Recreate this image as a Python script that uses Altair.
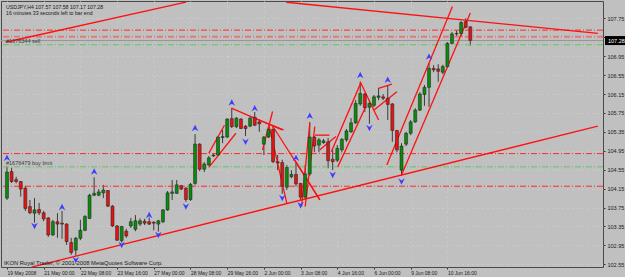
import json
import numpy as np
import pandas as pd
import altair as alt

# ---------------- data (USDJPY, H4) ----------------
opens = [103.95,104.51,104.34,104.30,104.16,103.77,103.63,103.71,103.64,103.53,
         103.17,103.45,103.42,103.40,103.01,102.85,103.10,103.27,103.52,104.01,
         104.01,104.06,104.11,103.78,103.36,103.05,103.25,103.36,103.29,103.40,
         103.46,103.45,103.44,103.40,103.45,103.70,104.05,104.05,104.21,104.16,
         103.92,104.26,105.09,104.56,104.65,104.84,104.86,105.23,105.24,105.63,
         105.46,105.62,105.47,105.47,105.66,105.56,105.09,105.24,105.40,104.72,
         104.70,104.18,104.40,104.45,104.26,103.97,104.46,105.24,105.07,105.12,
         105.14,104.77,104.75,104.97,105.18,105.35,105.54,105.94,106.15,105.87,
         105.91,106.08,106.09,106.06,105.94,105.38,104.54,105.09,105.32,105.56,
         105.81,106.14,106.29,106.69,106.68,106.61,106.73,107.22,107.42,107.43,
         107.68,107.57]
highs = [104.62,104.59,104.40,104.31,104.21,103.91,103.95,103.85,103.68,103.55,
         103.49,103.63,103.68,103.42,103.11,103.13,103.49,103.59,104.04,104.39,
         104.14,104.23,104.12,103.80,103.38,103.36,103.30,103.53,103.59,103.52,
         103.51,103.54,103.46,103.49,103.72,104.10,104.33,104.33,104.23,104.18,
         104.27,105.30,105.11,104.71,104.84,104.90,105.26,105.39,105.64,105.85,
         105.66,105.64,105.49,105.68,105.77,105.62,105.26,105.43,105.47,104.86,
         104.76,104.65,104.54,104.71,104.27,104.65,105.56,105.26,105.22,105.20,
         105.22,104.97,105.07,105.22,105.41,105.64,106.02,106.41,106.17,106.02,
         106.13,106.28,106.15,106.32,105.96,105.39,105.11,105.35,105.60,105.85,
         106.19,106.34,106.80,106.76,106.78,106.77,107.25,107.46,107.49,107.69,
         107.75,107.58]
lows = [103.91,104.27,104.26,103.98,103.68,103.61,103.43,103.59,103.46,103.13,
        103.15,103.11,103.09,102.96,102.75,102.73,103.06,103.25,103.51,103.99,
        103.99,103.95,103.76,103.34,103.04,103.01,103.11,103.32,103.25,103.36,
        103.38,103.38,103.27,103.24,103.42,103.68,103.91,104.04,104.12,103.87,
        103.89,104.23,104.52,104.50,104.63,104.82,104.84,105.11,105.22,105.43,
        105.43,105.41,105.26,105.45,105.47,105.35,104.86,105.22,104.69,104.54,
        104.04,104.12,104.37,104.20,103.91,103.93,104.42,104.92,104.92,105.10,
        104.58,104.54,104.71,104.92,105.14,105.33,105.52,105.90,105.77,105.52,
        105.87,106.02,106.02,105.60,105.14,104.92,104.42,105.05,105.28,105.54,
        105.79,105.90,105.88,106.61,106.41,106.57,106.70,107.20,107.36,107.36,
        107.54,107.17]
closes = [104.50,104.30,104.30,104.14,103.73,103.64,103.70,103.64,103.51,103.17,
          103.45,103.40,103.40,103.03,102.80,103.10,103.27,103.56,104.01,104.05,
          104.08,104.12,103.78,103.36,103.06,103.35,103.15,103.45,103.47,103.47,
          103.42,103.40,103.42,103.47,103.70,104.06,104.08,104.23,104.14,103.92,
          104.24,105.09,104.56,104.67,104.80,104.86,105.24,105.25,105.62,105.46,
          105.64,105.42,105.42,105.64,105.49,105.52,105.24,105.40,104.72,104.69,
          104.20,104.60,104.45,104.25,103.97,104.46,105.24,105.05,105.18,105.16,
          104.74,104.72,105.00,105.19,105.37,105.54,105.95,106.16,105.86,105.95,
          106.09,106.11,106.06,105.93,105.38,104.97,105.05,105.32,105.56,105.81,
          106.15,106.29,106.69,106.66,106.63,106.73,107.22,107.42,107.43,107.66,
          107.56,107.28]

time_labels = ["19 May 2008", "21 May 00:00", "22 May 08:00", "23 May 16:00",
               "27 May 00:00", "28 May 08:00", "29 May 16:00", "2 Jun 00:00",
               "3 Jun 08:00", "4 Jun 16:00", "6 Jun 00:00", "9 Jun 08:00",
               "10 Jun 16:00"]
time_label_bars = [0, 8, 16, 24, 32, 40, 48, 56, 64, 72, 80, 88, 96]
price_ticks = [102.55, 102.95, 103.35, 103.75, 104.15, 104.55, 104.95,
               105.35, 105.75, 106.15, 106.55, 106.95, 107.35, 107.75]

# fractal arrows (bar index, price)
up_bars = [0, 12, 19, 31, 41, 49, 54, 63, 66, 77, 83, 92]
up_prices = [104.80, 103.76, 104.51, 103.59, 105.43, 105.97, 105.85, 104.80,
             105.69, 106.55, 106.45, 106.94]
dn_bars = [6, 15, 25, 33, 39, 52, 60, 64, 71, 79, 86]
dn_prices = [103.36, 102.64, 102.96, 103.17, 103.77, 105.14, 103.95, 103.80,
             104.44, 105.43, 104.30]

# order / level lines
lvl_prices = [107.50, 107.36, 107.28, 107.19, 104.89, 104.61, 104.20]
lvl_kind = ["sl", "pend", "bid", "order", "sl", "order", "sl"]

# trend lines (bar index / price pairs)
tl_i1 = [-0.3, 60.9, 5.36, 44.0, 44.0, 48.9, 53.9, 57.9, 57.1, 57.8, 64.2, 65.0,
         62.8, 67.1, 68.2, 70.7, 72.1, 77.0, 80.0, 81.0, 82.8, 86.0]
tl_p1 = [107.244, 108.09, 102.49, 104.90, 104.60, 105.85, 105.64, 105.78, 105.49,
         105.49, 103.77, 103.77, 104.75, 105.28, 104.97, 104.93, 104.61, 106.41,
         105.81, 106.27, 104.65, 104.44]
tl_i2 = [39.0, 128.8, 128.8, 47.4, 49.9, 60.0, 60.3, 55.7, 61.0, 68.2, 66.0, 67.1,
         68.2, 70.3, 71.7, 77.1, 78.2, 81.0, 85.0, 83.9, 97.1, 101.0]
tl_p2 = [108.09, 107.43, 105.47, 105.49, 105.32, 105.39, 105.39, 104.97, 103.84,
         103.91, 105.53, 105.46, 103.91, 105.28, 105.25, 106.38, 105.88, 105.60,
         106.20, 106.36, 108.00, 107.86]

# ---------------- build ----------------
BG = "#c0c0c0"
FONT = "Liberation Sans"
n = len(opens)
df = pd.DataFrame({"i": np.arange(n), "o": opens, "h": highs, "l": lows, "c": closes})
df["top"] = df[["o", "c"]].max(axis=1)
df["bot"] = df[["o", "c"]].min(axis=1)
df["dir"] = np.where(df["c"] >= df["o"], "up", "down")

xs = alt.Scale(domain=[-0.214, 128.83], nice=False, zero=False)
ys = alt.Scale(domain=[102.493, 108.116], nice=False, zero=False)

label_expr = json.dumps(time_labels) + "[round(datum.value / 8)]"
x_axis = alt.Axis(values=time_label_bars, labelExpr=label_expr, orient="bottom",
                  labelAlign="left", labelBaseline="top", labelFontSize=5,
                  labelFont=FONT, labelColor="#1a1a1a", labelPadding=1,
                  tickSize=2, tickColor="#303030", domain=False, title=None,
                  grid=True, gridColor="#d2d2d2", gridDash=[1, 4],
                  labelOverlap=False, labelFlush=False)
y_axis = alt.Axis(values=price_ticks, format=".2f", orient="right",
                  labelFontSize=5.5, labelFont=FONT, labelColor="#1a1a1a",
                  labelPadding=2, tickSize=2, tickColor="#303030", domain=False,
                  title=None, grid=True, gridColor="#d2d2d2", gridDash=[1, 4],
                  labelOverlap=False, labelFlush=False)


def X(field):
    return alt.X(field, type="quantitative", scale=xs, axis=x_axis, title=None)


def Y(field):
    return alt.Y(field, type="quantitative", scale=ys, axis=y_axis, title=None)


base = alt.Chart(df)

wicks = base.mark_rule(color="#3a3a3a", strokeWidth=1).encode(
    x=X("i"), y=Y("l"), y2="h:Q",
)
bodies = base.mark_bar(size=3, stroke="#1e1e1e", strokeWidth=0.5).encode(
    x=X("i"), y=Y("bot"), y2="top:Q",
    color=alt.Color("dir:N", scale=alt.Scale(domain=["up", "down"],
                                             range=["#0b8a0b", "#e41414"]),
                    legend=None),
)

# level lines
lv = pd.DataFrame({"p": lvl_prices, "k": lvl_kind})
styles = {"sl": ("#ff2a2a", 1, [6, 2, 1, 2]),
          "pend": ("#e27a7a", 2, [6, 2, 1, 2]),
          "bid": ("#969696", 1, [1, 0]),
          "order": ("#5ec85e", 1, [6, 2, 1, 2])}
level_layers = []
for k, (col, w, dash) in styles.items():
    level_layers.append(
        alt.Chart(lv[lv["k"] == k]).mark_rule(color=col, strokeWidth=w, strokeDash=dash)
        .encode(y=Y("p"))
    )

tl = pd.DataFrame({"i1": tl_i1, "p1": tl_p1, "i2": tl_i2, "p2": tl_p2})
trend = alt.Chart(tl).mark_rule(color="#ff1010", strokeWidth=1.3, clip=True).encode(
    x=X("i1"), x2="i2:Q", y=Y("p1"), y2="p2:Q",
)

upf = pd.DataFrame({"i": up_bars, "p": up_prices})
dnf = pd.DataFrame({"i": dn_bars, "p": dn_prices})
up_shape = "M0,-1L1,1L0,0.35L-1,1Z"
dn_shape = "M0,1L1,-1L0,-0.35L-1,-1Z"
up_arr = alt.Chart(upf).mark_point(shape=up_shape, filled=True, size=42,
                                   color="#3d3dff", opacity=1).encode(
    x=X("i"), y=Y("p"))
dn_arr = alt.Chart(dnf).mark_point(shape=dn_shape, filled=True, size=42,
                                   color="#3d3dff", opacity=1).encode(
    x=X("i"), y=Y("p"))

# order labels
ol = pd.DataFrame({"p": [107.19, 104.61], "t": ["#1676344 sell", "#1676479 buy limit"]})
order_lbl = alt.Chart(ol).mark_text(align="left", baseline="bottom", dy=-0.5,
                                    fontSize=5.5, font=FONT, color="#3a3a3a").encode(
    x=alt.value(5), y=Y("p"), text="t:N")

hdr = pd.DataFrame({"t": ["USDJPY,H4 107.57 107.58 107.17 107.28",
                          "16 minutes 33 seconds left to bar end"],
                    "yy": [5.5, 11.5]})
header = alt.Chart(hdr).mark_text(align="left", baseline="middle", fontSize=5.2,
                                  font=FONT, color="#1a1a1a").encode(
    x=alt.value(5), y=alt.Y("yy:Q", scale=None), text="t:N")

cp = pd.DataFrame({"t": ["IKON Royal Trader, © 2001-2008 MetaQuotes Software Corp."]})
copyright_txt = alt.Chart(cp).mark_text(align="left", baseline="middle", fontSize=5.8,
                                        font=FONT, color="#1a1a1a").encode(
    x=alt.value(3), y=alt.value(261.5), text="t:N")

cur = pd.DataFrame({"p": [107.28], "lo": [107.28 - 0.095], "hi": [107.28 + 0.095],
                    "t": ["107.28"]})
cur_box = alt.Chart(cur).mark_rect(color="#000000", clip=False).encode(
    x=alt.value(604), x2=alt.value(625),
    y=Y("lo"), y2="hi:Q")
cur_txt = alt.Chart(cur).mark_text(align="left", baseline="middle", fontSize=5.5,
                                   font=FONT, color="#ffffff").encode(
    x=alt.value(607), y=Y("p"), text="t:N")

chart = alt.layer(
    wicks, *level_layers, trend, bodies, up_arr, dn_arr,
    order_lbl, header, copyright_txt, cur_box, cur_txt,
).properties(
    width=602, height=266,
    padding={"left": 1, "top": 1, "right": 22, "bottom": 10},
    autosize=alt.AutoSizeParams(type="none"),
    background=BG,
).configure_view(
    fill=BG, stroke="#4a4a4a", strokeWidth=1,
)

chart.save("out.html", embed_options={"renderer": "svg", "actions": False})
